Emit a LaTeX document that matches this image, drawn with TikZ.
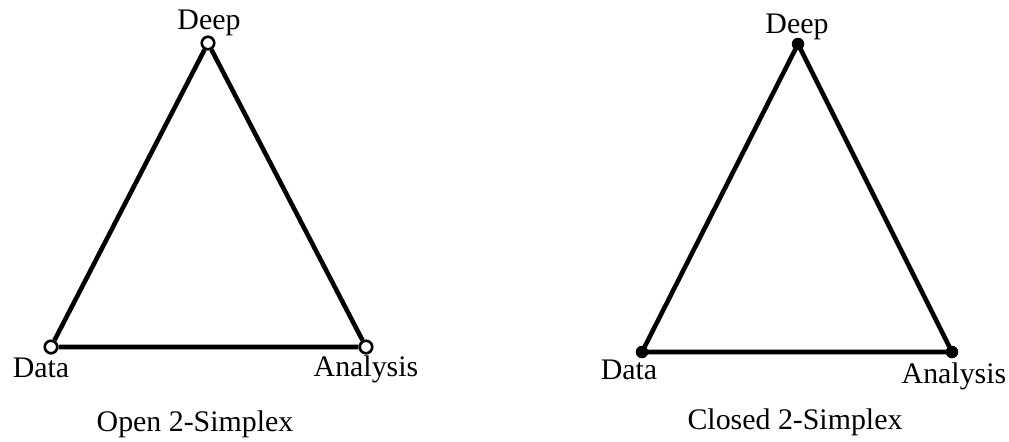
\documentclass[tikz,border=0pt]{standalone}
\usepackage{fontspec}
\setmainfont{Liberation Serif}
\begin{document}
\begin{tikzpicture}[
    x=0.02cm, y=-0.02cm,
    edge/.style={draw, line width=2.6pt},
    openvert/.style={circle, draw, line width=1.5pt, fill=white, inner sep=0pt, minimum size=0.25cm},
    closedvert/.style={circle, fill=black, inner sep=0pt, minimum size=0.25cm},
    lbl/.style={anchor=base, inner sep=0pt, font=\fontsize{17}{20}\selectfont}
    ]
    \useasboundingbox (0,0) rectangle (1009,441);
    % open simplex
    \node [openvert] (topA) at (208,43) {};
    \node [openvert] (leftA) at (51,347) {};
    \node [openvert] (rightA) at (366,347) {};
    \draw [edge] (leftA) -- (topA) -- (rightA) -- (leftA);
    \node [lbl] (deepA) at (209,29) {Deep};
    \node [lbl] (dataA) at (41,377) {Data};
    \node [lbl] (analysisA) at (366,376) {Analysis};
    \node [lbl] (captionA) at (195,431) {Open 2-Simplex};
    % closed simplex
    \node [closedvert] (topB) at (798,44) {};
    \node [closedvert] (leftB) at (642,352) {};
    \node [closedvert] (rightB) at (952,352) {};
    \draw [edge] (leftB.center) -- (topB.center) -- (rightB.center) -- cycle;
    \node [lbl] (deepB) at (797,33) {Deep};
    \node [lbl] (dataB) at (629,379) {Data};
    \node [lbl] (analysisB) at (954,383) {Analysis};
    \node [lbl] (captionB) at (795,429) {Closed 2-Simplex};
\end{tikzpicture}
\end{document}
